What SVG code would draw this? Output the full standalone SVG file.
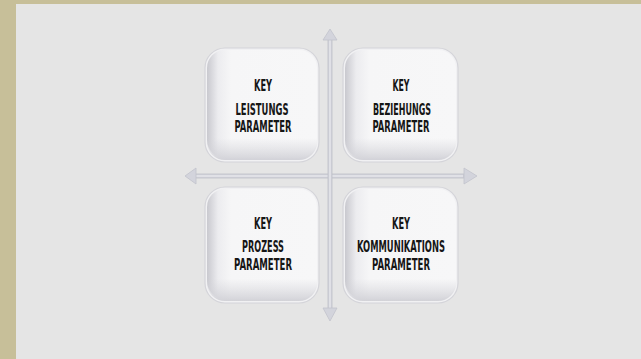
<svg xmlns="http://www.w3.org/2000/svg" width="641" height="359" viewBox="0 0 641 359">
<style>
.t{font-family:"DejaVu Sans Condensed","DejaVu Sans",sans-serif;font-weight:bold;font-size:15px;fill:#161616;text-anchor:middle}
.rim{fill:#f1f1f3;stroke:#d4d4d9;stroke-width:1.2}
.face{fill:url(#gx)}
.shade{fill:url(#gy)}
.ax{fill:#d2d3da;stroke:#bfc0c8;stroke-width:0.8}
.axc{stroke:#eeeef2;stroke-width:1}
.head{fill:#d3d4dc;stroke:#c2c3cb;stroke-width:0.8}
</style>
<defs>
<linearGradient id="gx" x1="0" y1="0" x2="1" y2="0">
<stop offset="0" stop-color="#c9c9cf"/>
<stop offset="0.1" stop-color="#ececef"/>
<stop offset="0.22" stop-color="#f6f6f7"/>
<stop offset="1" stop-color="#f7f7f8"/>
</linearGradient>
<linearGradient id="gy" x1="0" y1="0" x2="0" y2="1">
<stop offset="0.8" stop-color="#d6d6db" stop-opacity="0"/>
<stop offset="1" stop-color="#cfcfd5" stop-opacity="0.9"/>
</linearGradient>
</defs>
<rect x="0" y="0" width="641" height="359" fill="#c7bf99"/>
<rect x="16" y="4" width="625" height="355" fill="#e5e5e5"/>

<g id="connectors">
<rect class="ax" x="195" y="174" width="269" height="4"/>
<line class="axc" x1="196" y1="176" x2="463" y2="176"/>
<rect class="ax" x="328" y="39" width="4" height="270"/>
<line class="axc" x1="330" y1="40" x2="330" y2="308"/>
<polygon class="head" points="330,29 337,40 323,40"/>
<polygon class="head" points="330,321 337,308 323,308"/>
<polygon class="head" points="185,176 196,168 196,184"/>
<polygon class="head" points="477,176 464,168 464,184"/>
</g>

<g id="node-leistungs">
<rect class="rim" x="205" y="48" width="114" height="114" rx="20"/>
<rect class="face" x="207" y="50" width="110" height="108" rx="18"/>
<rect class="shade" x="207" y="50" width="110" height="110" rx="18"/>
<text class="t" x="263" y="91" textLength="18" lengthAdjust="spacingAndGlyphs">KEY</text>
<text class="t" x="262" y="115" textLength="53" lengthAdjust="spacingAndGlyphs">LEISTUNGS</text>
<text class="t" x="263" y="132" textLength="57" lengthAdjust="spacingAndGlyphs">PARAMETER</text>
</g>

<g id="node-beziehungs">
<rect class="rim" x="343" y="48" width="115" height="114" rx="20"/>
<rect class="face" x="345" y="50" width="111" height="108" rx="18"/>
<rect class="shade" x="345" y="50" width="111" height="110" rx="18"/>
<text class="t" x="401" y="91" textLength="17" lengthAdjust="spacingAndGlyphs">KEY</text>
<text class="t" x="402" y="115" textLength="58" lengthAdjust="spacingAndGlyphs">BEZIEHUNGS</text>
<text class="t" x="401" y="132" textLength="57" lengthAdjust="spacingAndGlyphs">PARAMETER</text>
</g>

<g id="node-prozess">
<rect class="rim" x="205" y="187" width="114" height="116" rx="20"/>
<rect class="face" x="207" y="189" width="110" height="110" rx="18"/>
<rect class="shade" x="207" y="189" width="110" height="112" rx="18"/>
<text class="t" x="263" y="229" textLength="18" lengthAdjust="spacingAndGlyphs">KEY</text>
<text class="t" x="263" y="252" textLength="42" lengthAdjust="spacingAndGlyphs">PROZESS</text>
<text class="t" x="263" y="270" textLength="58" lengthAdjust="spacingAndGlyphs">PARAMETER</text>
</g>

<g id="node-kommunikations">
<rect class="rim" x="343" y="187" width="115" height="116" rx="20"/>
<rect class="face" x="345" y="189" width="111" height="110" rx="18"/>
<rect class="shade" x="345" y="189" width="111" height="112" rx="18"/>
<text class="t" x="401" y="229" textLength="18" lengthAdjust="spacingAndGlyphs">KEY</text>
<text class="t" x="401" y="252" textLength="88" lengthAdjust="spacingAndGlyphs">KOMMUNIKATIONS</text>
<text class="t" x="401" y="270" textLength="58" lengthAdjust="spacingAndGlyphs">PARAMETER</text>
</g>
</svg>
